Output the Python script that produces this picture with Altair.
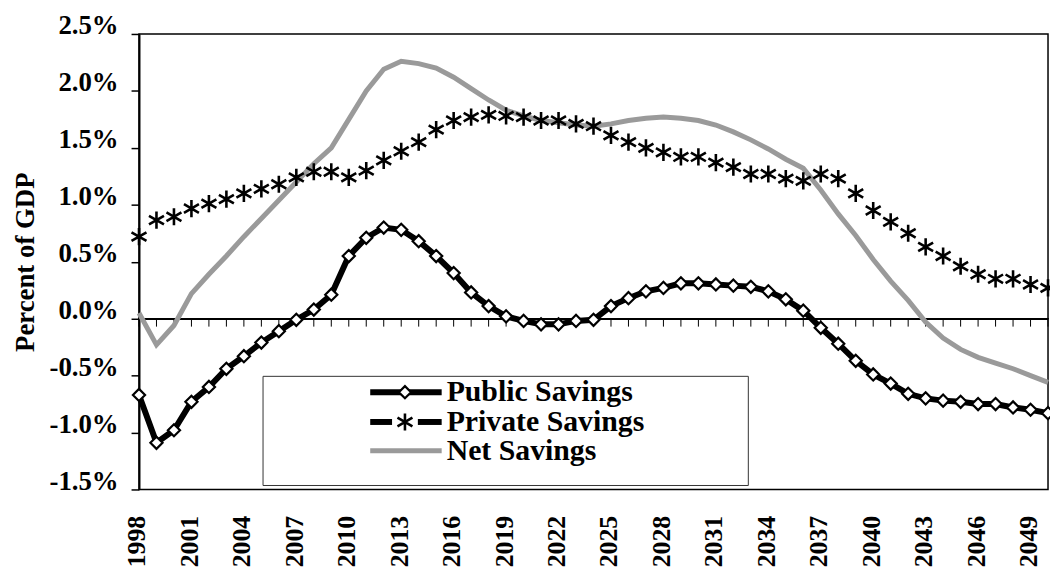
import altair as alt
import pandas as pd

years = [1998, 1999, 2000, 2001, 2002, 2003, 2004, 2005, 2006, 2007,
         2008, 2009, 2010, 2011, 2012, 2013, 2014, 2015, 2016, 2017,
         2018, 2019, 2020, 2021, 2022, 2023, 2024, 2025, 2026, 2027,
         2028, 2029, 2030, 2031, 2032, 2033, 2034, 2035, 2036, 2037,
         2038, 2039, 2040, 2041, 2042, 2043, 2044, 2045, 2046, 2047,
         2048, 2049, 2050]

public = [-0.67, -1.09, -0.98, -0.73, -0.60, -0.44, -0.33, -0.21, -0.11, -0.01,
          0.08, 0.21, 0.55, 0.71, 0.80, 0.78, 0.68, 0.55, 0.40, 0.23,
          0.11, 0.02, -0.02, -0.05, -0.05, -0.02, -0.01, 0.11, 0.18, 0.24,
          0.27, 0.31, 0.31, 0.30, 0.29, 0.28, 0.24, 0.17, 0.07, -0.08,
          -0.22, -0.37, -0.49, -0.57, -0.66, -0.70, -0.72, -0.73, -0.75, -0.75,
          -0.78, -0.80, -0.83]

private = [0.72, 0.865, 0.895, 0.967, 1.01, 1.05, 1.10, 1.14, 1.18, 1.24,
           1.29, 1.29, 1.24, 1.30, 1.39, 1.47, 1.55, 1.66, 1.74, 1.77,
           1.79, 1.78, 1.77, 1.74, 1.74, 1.71, 1.69, 1.61, 1.55, 1.50,
           1.46, 1.42, 1.42, 1.37, 1.33, 1.27, 1.27, 1.23, 1.21, 1.27,
           1.23, 1.10, 0.95, 0.85, 0.75, 0.63, 0.55, 0.46, 0.39, 0.35,
           0.35, 0.30, 0.27]

net = [0.05, -0.23, -0.06, 0.22, 0.39, 0.55, 0.72, 0.88, 1.04, 1.20,
       1.36, 1.50, 1.75, 2.00, 2.19, 2.26, 2.24, 2.20, 2.12, 2.02,
       1.92, 1.83, 1.78, 1.74, 1.72, 1.70, 1.69, 1.71, 1.74, 1.76,
       1.77, 1.76, 1.74, 1.70, 1.64, 1.57, 1.49, 1.40, 1.32, 1.13,
       0.92, 0.73, 0.52, 0.33, 0.16, -0.03, -0.17, -0.27, -0.34, -0.39,
       -0.44, -0.50, -0.56]

x_tick_labels = [1998, 2001, 2004, 2007, 2010, 2013, 2016, 2019, 2022, 2025,
                 2028, 2031, 2034, 2037, 2040, 2043, 2046, 2049]
y_ticks = [-1.5, -1.0, -0.5, 0.0, 0.5, 1.0, 1.5, 2.0, 2.5]
legend_labels = ["Public Savings", "Private Savings", "Net Savings"]

FONT = "Liberation Serif"
W, H = 916, 459

df = pd.DataFrame({"year": years, "public": public, "private": private, "net": net})

XSCALE = alt.Scale(domain=[1998, 2050], nice=False, zero=False)
YSCALE = alt.Scale(domain=[-1.5, 2.5], nice=False, zero=False)
XAXIS = alt.Axis(values=x_tick_labels, format="d", labelAngle=270,
                 labelFont=FONT, labelFontWeight="bold", labelFontSize=26,
                 labelColor="black", labelPadding=26, labelOffset=-2, ticks=False,
                 domain=False, grid=False, title=None)
YAXIS = alt.Axis(values=y_ticks,
                 labelExpr="(datum.value < 0 ? '-' : '') + format(abs(datum.value), '.1f') + '%'",
                 labelFont=FONT, labelFontWeight="bold", labelFontSize=27,
                 labelColor="black", labelPadding=13, labelBaseline="alphabetic",
                 tickSize=8, tickColor="black", tickWidth=1.5, domainColor="black",
                 domainWidth=2, grid=False, title="Percent of GDP",
                 titleFont=FONT, titleFontWeight="bold", titleFontSize=27,
                 titleColor="black", titlePadding=10)


def X(field):
    return alt.X(field, scale=XSCALE, axis=XAXIS)


def Y(field):
    return alt.Y(field, scale=YSCALE, axis=YAXIS)


base = alt.Chart(df)

zero_line = base.transform_calculate(v="0").mark_rule(color="black", strokeWidth=1.5).encode(
    y=Y("v:Q"), x=alt.value(0), x2=alt.value(W))

year_ticks = base.transform_calculate(v="0", v2="-0.07").mark_rule(
    color="black", strokeWidth=1).encode(x=X("year:Q"), y=Y("v:Q"), y2="v2:Q")

net_line = base.transform_calculate(v="datum.net").mark_line(
    color="#9a9a9a", strokeWidth=5).encode(x=X("year:Q"), y=Y("v:Q"))

pub_line = base.transform_calculate(v="datum.public").mark_line(
    color="black", strokeWidth=6).encode(x=X("year:Q"), y=Y("v:Q"))

pub_pts = base.transform_calculate(v="datum.public").mark_point(
    shape="diamond", filled=True, fill="white", stroke="black", strokeWidth=2.2,
    size=150, opacity=1).encode(x=X("year:Q"), y=Y("v:Q"))

ASTERISK = "M0,-1L0,1M-0.87,-0.5L0.87,0.5M-0.87,0.5L0.87,-0.5"
priv_pts = base.transform_calculate(v="datum.private").mark_point(
    shape=ASTERISK, filled=False, stroke="black", strokeWidth=2.6,
    size=300, opacity=1).encode(x=X("year:Q"), y=Y("v:Q"))

one = alt.Chart(pd.DataFrame({"a": [0]}))

# legend (positions in pixels within the plot area)
LX0, LX1, LY0, LY1 = 125, 614, 345, 455
SX0, SX1, SXC, TX = 233, 305, 268, 310
ROWS = [361, 391, 420]

leg_box = one.mark_rect(fill="white", stroke="#333333", strokeWidth=1).encode(
    x=alt.value(LX0), x2=alt.value(LX1), y=alt.value(LY0), y2=alt.value(LY1))

leg_pub_line = one.mark_rule(color="black", strokeWidth=6).encode(
    x=alt.value(SX0), x2=alt.value(SX1), y=alt.value(ROWS[0]))
leg_pub_pt = one.mark_point(shape="diamond", filled=True, fill="white", stroke="black",
                            strokeWidth=2.2, size=150, opacity=1).encode(
    x=alt.value(SXC), y=alt.value(ROWS[0]))
leg_priv_l = one.mark_rule(color="black", strokeWidth=6).encode(
    x=alt.value(SX0), x2=alt.value(SXC - 13), y=alt.value(ROWS[1]))
leg_priv_r = one.mark_rule(color="black", strokeWidth=6).encode(
    x=alt.value(SXC + 13), x2=alt.value(SX1), y=alt.value(ROWS[1]))
leg_priv_pt = one.mark_point(shape=ASTERISK, filled=False, stroke="black",
                             strokeWidth=2.6, size=300, opacity=1).encode(
    x=alt.value(SXC), y=alt.value(ROWS[1]))
leg_net_line = one.mark_rule(color="#9a9a9a", strokeWidth=5).encode(
    x=alt.value(SX0), x2=alt.value(SX1), y=alt.value(ROWS[2]))

leg_texts = [
    one.mark_text(align="left", baseline="middle", font=FONT, fontWeight="bold",
                  fontSize=30, color="black", text=lbl).encode(
        x=alt.value(TX), y=alt.value(ry))
    for lbl, ry in zip(legend_labels, ROWS)
]

chart = alt.layer(
    zero_line, year_ticks, net_line, pub_line, pub_pts, priv_pts,
    leg_box, leg_pub_line, leg_pub_pt, leg_priv_l, leg_priv_r, leg_priv_pt,
    leg_net_line, *leg_texts
).properties(
    width=W, height=H,
    autosize=alt.AutoSizeParams(type="none"),
    padding={"left": 132, "top": 24, "right": 2, "bottom": 80},
    background="white"
).configure_view(stroke="black", strokeWidth=1.5)

chart.save("out.html", embed_options={"renderer": "svg", "actions": False})
